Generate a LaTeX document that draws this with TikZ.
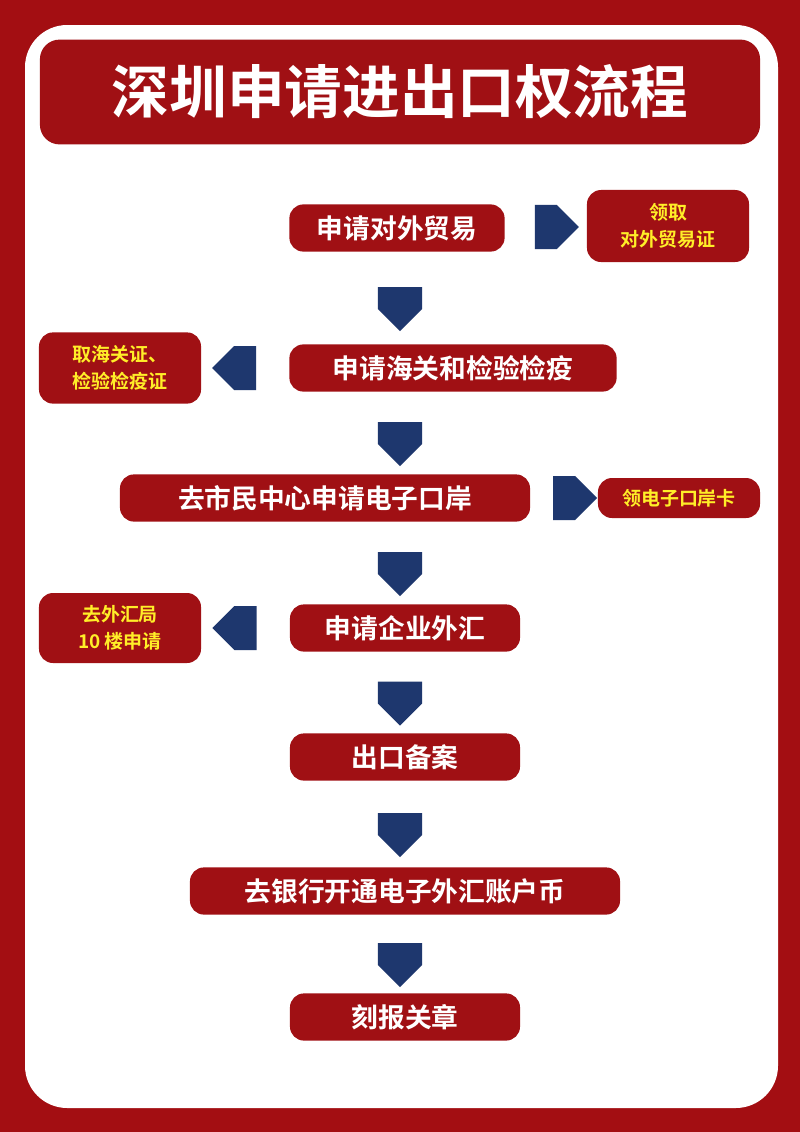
\documentclass[tikz,border=0pt]{standalone}
\usepackage{fontspec}
\setmainfont{Noto Sans CJK SC}
\newfontfamily\cjkbold{Noto Sans CJK SC}[BoldFont={Noto Sans CJK SC Bold}]
\usetikzlibrary{shapes.arrows, positioning, calc}
\definecolor{bgred}{RGB}{163, 14, 18}
\definecolor{boxred}{RGB}{160, 16, 20}
\definecolor{navy}{RGB}{30, 55, 110}
\definecolor{tipyellow}{RGB}{255, 238, 40}

\begin{document}
\begin{tikzpicture}[
    x=0.025cm, y=-0.025cm,
    stage/.style={rectangle, fill=boxred, rounded corners=10pt, minimum height=1.18cm,
                 align=center, text=white, font=\cjkbold\bfseries\fontsize{19}{22}\selectfont},
    side/.style={rectangle, fill=boxred, rounded corners=10pt, minimum width=4.05cm,
                 align=center, text=tipyellow, font=\cjkbold\bfseries\fontsize{13.5}{19}\selectfont},
    blk/.style={single arrow, fill=navy, minimum height=1.1cm, minimum width=1.1cm,
                single arrow head extend=0pt, inner sep=2.5pt}
]

% Background and frame
\fill[bgred] (0,0) rectangle (800,1132);
\useasboundingbox (0,0) rectangle (800,1132);
\fill[white, rounded corners=30pt] (25,25) rectangle (778,1108);
\node[stage, minimum width=18cm, minimum height=2.62cm, rounded corners=14pt,
      font=\cjkbold\bfseries\fontsize{41}{48}\selectfont] (title) at (400,92) {深圳申请进出口权流程};

% Stages
\node[stage, minimum width=5.38cm] (trade) at (397,228) {申请对外贸易};
\node[stage, minimum width=8.18cm] (customs) at (453,368) {申请海关和检验检疫};
\node[stage, minimum width=10.25cm] (eport) at (325,498) {去市民中心申请电子口岸};
\node[stage, minimum width=5.75cm] (forex) at (405,628) {申请企业外汇};
\node[stage, minimum width=5.75cm] (record) at (405,757) {出口备案};
\node[stage, minimum width=10.75cm] (bank) at (405,891) {去银行开通电子外汇账户币};
\node[stage, minimum width=5.75cm] (seal) at (405,1017) {刻报关章};

% Side results
\node[side, minimum height=1.8cm] (tradecert) at (668,226) {领取\\对外贸易证};
\node[side, minimum height=1.78cm] (customscert) at (120,368) {取海关证、\\检验检疫证};
\node[side, minimum height=1.0cm] (eportcard) at (679,498) {领电子口岸卡};
\node[side, minimum height=1.75cm] (forexbureau) at (120,628) {去外汇局\\10 楼申请};

% Arrows
\foreach \a/\b in {trade/customs, customs/eport, eport/forex, forex/record, record/bank, bank/seal}
  \node[blk, shape border rotate=270] at ($(\a.south -| 400,0)!0.5!(\b.north -| 400,0)$) {};
\node[blk] at ($(trade.east)!0.5!(tradecert.west)$) {};
\node[blk] at ($(eport.east)!0.5!(eportcard.west)$) {};
\node[blk, shape border rotate=180] at ($(customs.west)!0.5!(customscert.east)$) {};
\node[blk, shape border rotate=180] at ($(forex.west)!0.5!(forexbureau.east)$) {};

\end{tikzpicture}
\end{document}
